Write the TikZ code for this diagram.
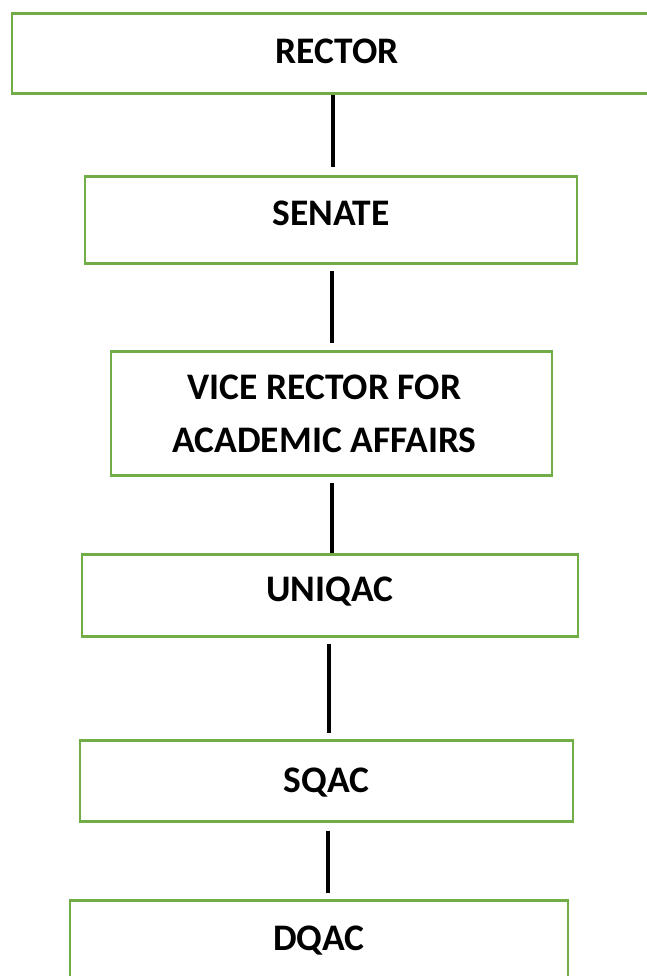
\documentclass[tikz,border=0pt]{standalone}
\usepackage{fontspec}
\setmainfont{Carlito}
\usetikzlibrary{calc}
\definecolor{officegreen}{HTML}{70AD47}
\tikzset{
  unitbox/.style={draw=officegreen, line width=2.8pt, rectangle, inner sep=0pt,
    anchor=north, align=center, font=\bfseries\fontsize{37.5}{53}\selectfont},
  link/.style={line width=3.5pt}
}

\begin{document}
\begin{tikzpicture}[x=1pt,y=-1pt]
    \useasboundingbox (0,0) rectangle (646,976);

\node[unitbox, minimum width=650pt, text height=50pt, text depth=30pt] (rector) at (337,12) {RECTOR};
\node[unitbox, minimum width=492pt, text height=49pt, text depth=38pt] (senate) at (331,175) {SENATE};
\node[unitbox, minimum width=441pt, minimum height=124pt] (vice) at (331.5,350) {VICE RECTOR FOR\kern14pt\\ACADEMIC AFFAIRS\kern14pt};
\node[unitbox, minimum width=496pt, text height=47pt, text depth=35pt] (uniqac) at (330,553) {UNIQAC};
\node[unitbox, minimum width=493pt, text height=52pt, text depth=29pt] (sqac) at (326.5,739) {SQAC};
\node[unitbox, minimum width=498pt, text height=50pt, text depth=59pt] (dqac) at (319,899) {DQAC};

\draw[link] ($(senate.north |- rector.south)+(2,0)$) -- ($(senate.north)+(2,-8)$);
\draw[link] ($(senate.south)+(1,6)$) -- ($(vice.north)+(0.5,-7)$);
\draw[link] ($(vice.south)+(0.5,6)$) -- ($(vice.south |- uniqac.north)+(0.5,0)$);
\draw[link] ($(uniqac.south)+(-1,6)$) -- ($(uniqac.south |- sqac.north)+(-1,-6)$);
\draw[link] ($(sqac.south)+(1.5,8)$) -- ($(sqac.south |- dqac.north)+(1.5,-6)$);
  \end{tikzpicture}
\end{document}
